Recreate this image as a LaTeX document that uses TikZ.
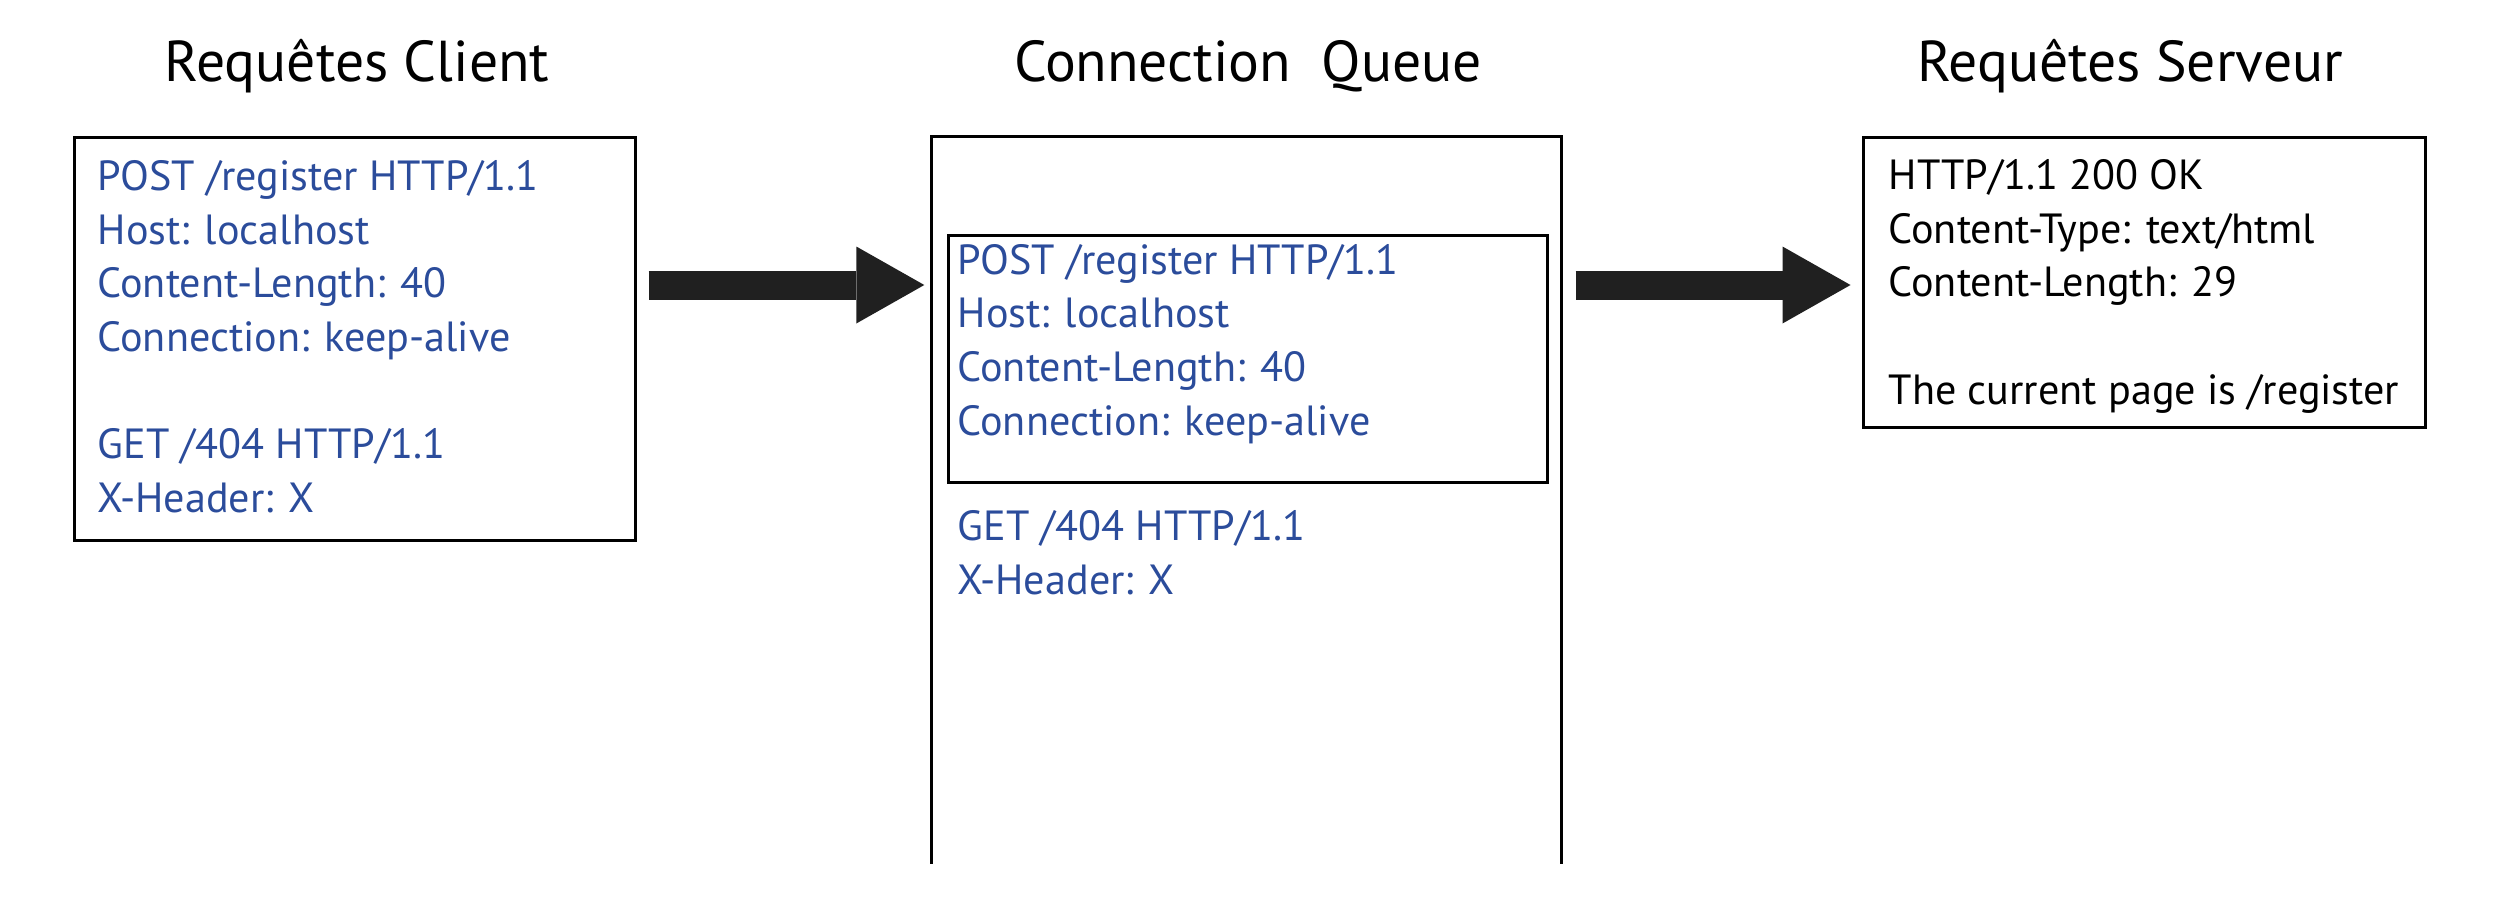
\documentclass[tikz,border=0pt]{standalone}
\usepackage{fontspec}
\setmainfont{PT Sans}
\usetikzlibrary{arrows.meta,positioning,calc}
\definecolor{ReqBlue}{HTML}{2B4C9B}
\definecolor{ArrowGray}{HTML}{202020}
\tikzset{panel/.style={draw=black,line width=0.3mm,inner sep=0pt},
  msg/.style={anchor=base west,align=left,inner sep=0pt,font=\fontsize{12}{15.25}\selectfont},
  heading/.style={anchor=base,inner sep=0pt,font=\fontsize{16.4}{19}\selectfont},
  bigarr/.style={ArrowGray,line width=2.9mm,-{Triangle[length=6.8mm,width=7.7mm,line width=0pt]}}}

\begin{document}
\begin{tikzpicture}[x=0.1mm,y=-0.1mm]
\useasboundingbox (0,0) rectangle (2500,911);
% titles
\node[heading] (tclient) at (357,81) {Requêtes Client};
\node[heading] (tqueue) at (1248,81) {Connection\ \ Queue};
\node[heading] (tserver) at (2130,81) {Requêtes Serveur};
% client side (msg nodes sit on the baseline of their last line)
\node[panel,minimum width=56.1mm,minimum height=40.3mm] (client) at (354.5,338.5) {};
\node[msg,text=ReqBlue] (clientmsg) at (97,512) {POST /register HTTP/1.1\\Host: localhost\\Content-Length: 40\\Connection: keep-alive\\[15.25pt]GET /404 HTTP/1.1\\X-Header: X};
% queue (open at the bottom)
\node[inner sep=0pt,minimum width=62.9mm,minimum height=72.6mm] (queue) at (1246.5,500) {};
\draw[panel] (queue.south west) |- (queue.north east) -- (queue.south east);
\node[panel,minimum width=59.9mm,minimum height=24.7mm] (inbox) at (1247.5,358.5) {};
\node[msg,text=ReqBlue] (inmsg) at (957,435) {POST /register HTTP/1.1\\Host: localhost\\Content-Length: 40\\Connection: keep-alive};
\node[msg,text=ReqBlue] (waitmsg) at (957,594) {GET /404 HTTP/1.1\\X-Header: X};
% server side
\node[panel,minimum width=56.2mm,minimum height=29mm] (server) at (2144,282) {};
\node[msg] (servermsg) at (1888,404) {HTTP/1.1 200 OK\\Content-Type: text/html\\Content-Length: 29\\[15.25pt]The current page is /register};
% arrows
\coordinate (lane) at (0,285);
\draw[bigarr] ([xshift=1.2mm]client.east |- lane) -- ([xshift=-0.7mm]queue.west |- lane);
\draw[bigarr] ([xshift=1.4mm]queue.east |- lane) -- ([xshift=-1.1mm]server.west |- lane);
\end{tikzpicture}
\end{document}
